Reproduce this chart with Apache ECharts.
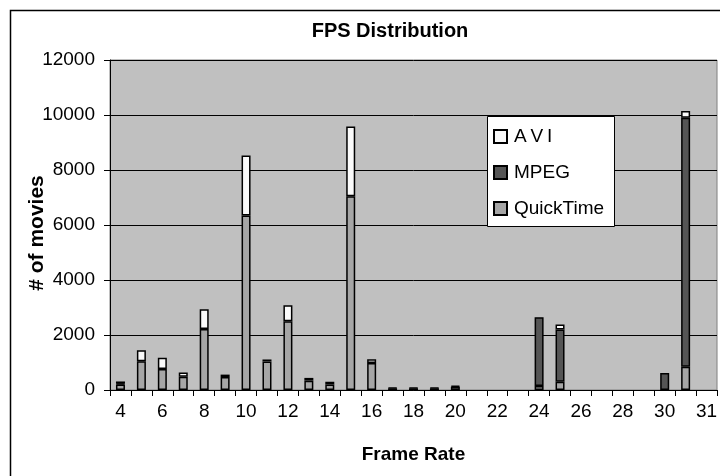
<!DOCTYPE html>
<html>
<head>
<meta charset="utf-8">
<script src="https://cdn.jsdelivr.net/npm/echarts@6/dist/echarts.min.js"></script>
<style>
  html, body { margin: 0; padding: 0; background: #fff; }
  #chart { width: 720px; height: 476px; }
</style>
</head>
<body>
<div id="chart"></div>
<script>
// Frame-rate buckets (movies counted per rounded FPS)
const frameRates = ['4','5','6','7','8','9','10','11','12','13','14','15','16','17','18','19','20',
  '21','22','23','24','25','26','27','28','29','30','30.5','31'];

// Movie counts per container format, stacked bottom to top
const quickTime = [200, 1050, 760, 480, 2220, 470, 6350, 1040, 2500, 340, 200, 7050, 980, 60, 60, 60, 120,
  null, null, null, 150, 300, null, null, null, null, null, 850, null];
const mpeg = [30, null, null, null, null, null, null, null, null, null, null, null, null, 20, 20, 20, 30,
  null, null, null, 2500, 1900, null, null, null, null, 620, 9050, null];
const avi = [80, 400, 410, 160, 720, 90, 2180, 70, 580, 100, 100, 2530, 140, null, null, null, null,
  null, null, null, null, 180, null, null, null, null, null, 250, null];

const yTicks = { min: 0, max: 12000, interval: 2000 };

const FONT = "'Liberation Sans', Arial, sans-serif";
const chart = echarts.init(document.getElementById('chart'), null, { renderer: 'canvas' });

const barStyle = (color) => ({ color: color, borderColor: '#000', borderWidth: 1.5 });

chart.setOption({
  animation: false,
  backgroundColor: '#fff',
  textStyle: { fontFamily: FONT },
  title: {
    text: 'FPS Distribution',
    left: 385, textAlign: 'center', top: 16,
    textStyle: { fontFamily: FONT, fontSize: 20, fontWeight: 'bold', color: '#000' }
  },
  graphic: [
    { type: 'rect', z: 0, silent: true,
      shape: { x: 10.5, y: 10.5, width: 800, height: 500 },
      style: { fill: null, stroke: '#000', lineWidth: 1.5 } },
    { type: 'rect', z: 50, silent: true,
      shape: { x: 487.5, y: 116.5, width: 127, height: 110 },
      style: { fill: '#fff', stroke: '#000', lineWidth: 1 } }
  ],
  legend: {
    z: 60,
    orient: 'vertical',
    left: 487, top: 116,
    padding: [11, 10, 12, 6],
    itemWidth: 13, itemHeight: 13, itemGap: 17,
    icon: 'rect',
    data: ['AVI', 'MPEG', 'QuickTime'],
    formatter: (n) => n === 'AVI' ? 'A\u2009V\u2009I' : n,
    textStyle: { fontFamily: FONT, fontSize: 19, color: '#000', lineHeight: 19, padding: [0, 0, 0, 2] }
  },
  grid: {
    left: 110, top: 60, width: 614, height: 330,
    show: true, backgroundColor: '#c0c0c0', borderColor: '#808080', borderWidth: 1
  },
  xAxis: {
    type: 'category',
    data: frameRates,
    name: 'Frame Rate',
    nameLocation: 'middle',
    nameGap: 55,
    nameMoveOverlap: false,
    nameTextStyle: { fontFamily: FONT, fontSize: 19, fontWeight: 'bold', color: '#000' },
    axisLine: { lineStyle: { color: '#000', width: 1 } },
    axisTick: { show: true, alignWithLabel: false, interval: 0, length: 6, lineStyle: { color: '#000' } },
    axisLabel: { interval: 1, margin: 12, fontFamily: FONT, fontSize: 19, color: '#000' },
    splitLine: { show: false }
  },
  yAxis: {
    type: 'value',
    min: yTicks.min, max: yTicks.max, interval: yTicks.interval,
    name: '# of movies',
    nameLocation: 'middle',
    nameGap: 62,
    nameRotate: 90,
    nameMoveOverlap: false,
    nameTextStyle: { fontFamily: FONT, fontSize: 21, fontWeight: 'bold', color: '#000', padding: [0, 16, 0, 0] },
    axisLine: { show: true, lineStyle: { color: '#000', width: 1 } },
    axisTick: { show: true, length: 6, lineStyle: { color: '#000' } },
    axisLabel: { margin: 15, fontFamily: FONT, fontSize: 19, color: '#000', formatter: (v) => String(v) },
    splitLine: { show: true, lineStyle: { color: '#000', width: 1 } }
  },
  series: [
    { name: 'QuickTime', type: 'bar', stack: 'fps', barWidth: 9, data: quickTime, itemStyle: barStyle('#a6a6a6') },
    { name: 'MPEG', type: 'bar', stack: 'fps', barWidth: 9, data: mpeg, itemStyle: barStyle('#555555') },
    { name: 'AVI', type: 'bar', stack: 'fps', barWidth: 9, data: avi, itemStyle: barStyle('#fafafa') }
  ]
});
</script>
</body>
</html>
